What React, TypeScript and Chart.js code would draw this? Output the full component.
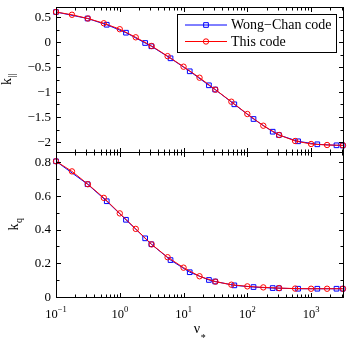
import React, { useEffect, useRef } from 'react';
import { Chart, registerables } from 'chart.js';

Chart.register(...registerables);

// ---- data ----
const xThisCode = [0.1, 0.178, 0.316, 0.562, 1, 1.78, 3.16, 5.62, 10, 17.8, 31.6, 56.2, 100, 178, 316, 562, 1000, 1780, 3160];
const kParThisCode = [0.6, 0.545, 0.47, 0.375, 0.256, 0.094, -0.08, -0.283, -0.494, -0.714, -0.954, -1.194, -1.44, -1.674, -1.86, -1.98, -2.04, -2.06, -2.066];
const kqThisCode = [0.805, 0.745, 0.669, 0.588, 0.496, 0.404, 0.312, 0.236, 0.174, 0.123, 0.091, 0.073, 0.063, 0.057, 0.053, 0.05, 0.049, 0.049, 0.049];

const xWongChan = [0.1, 0.3125, 0.625, 1.25, 2.5, 3.125, 6.25, 12.5, 25, 31.25, 62.5, 125, 250, 312.5, 625, 1250, 2500, 3125];
const kParWongChan = [0.6, 0.47, 0.345, 0.186, -0.02, -0.085, -0.326, -0.586, -0.866, -0.95, -1.246, -1.54, -1.794, -1.86, -1.986, -2.046, -2.066, -2.07];
const kqWongChan = [0.805, 0.669, 0.568, 0.458, 0.348, 0.313, 0.219, 0.147, 0.101, 0.092, 0.069, 0.059, 0.053, 0.052, 0.049, 0.049, 0.049, 0.049];

const seriesNames = ['Wong\u2212Chan code', 'This code'];

const xMajorTicks = [0.1, 1, 10, 100, 1000];
const xTickExponents = ['\u22121', '0', '1', '2', '3'];
const xMinorTicks = [
  0.2, 0.3, 0.4, 0.5, 0.6, 0.7, 0.8, 0.9,
  2, 3, 4, 5, 6, 7, 8, 9,
  20, 30, 40, 50, 60, 70, 80, 90,
  200, 300, 400, 500, 600, 700, 800, 900,
  2000, 3000,
];
const xRange = [0.1, 3162.28];

const kParTicks = [0.5, 0, -0.5, -1, -1.5, -2];
const kParMinorTicks = [0.25, -0.25, -0.75, -1.25, -1.75];
const kParRange = [-2.2, 0.7];

const kqTicks = [0, 0.2, 0.4, 0.6, 0.8];
const kqMinorTicks = [0.1, 0.3, 0.5, 0.7];
const kqRange = [0, 0.86];

const W = 353;
const H = 346;
const FONT = '"Liberation Serif", "Times New Roman", serif';

const fmt = (v: number) => (v < 0 ? '\u2212' + String(Math.abs(v)) : String(v));

type Panel = 'top' | 'bottom';

function makeDecor(panel: Panel) {
  return {
    id: 'decor_' + panel,
    afterDraw(chart: any) {
      const { ctx, chartArea: a, scales } = chart;
      const xs = scales.x;
      const ys = scales.y;
      ctx.save();
      ctx.strokeStyle = '#000';
      ctx.fillStyle = '#000';
      ctx.lineWidth = 1;
      const L = Math.floor(a.left) + 0.5;
      const R = Math.floor(a.right) + 0.5;
      const T = Math.floor(a.top) + 0.5;
      const B = Math.floor(a.bottom) + 0.5;
      const line = (x1: number, y1: number, x2: number, y2: number) => {
        ctx.beginPath();
        ctx.moveTo(x1, y1);
        ctx.lineTo(x2, y2);
        ctx.stroke();
      };
      ctx.strokeRect(L, T, R - L, B - T);

      const MAJ = 4.5;
      const MIN = 3;
      xMajorTicks.forEach((v) => {
        const p = Math.round(xs.getPixelForValue(v)) + 0.5;
        line(p, B, p, B - MAJ);
        line(p, T, p, T + MAJ);
      });
      xMinorTicks.forEach((v) => {
        const p = Math.round(xs.getPixelForValue(v)) + 0.5;
        line(p, B, p, B - MIN);
        line(p, T, p, T + MIN);
      });

      const majors = panel === 'top' ? kParTicks : kqTicks;
      const minors = panel === 'top' ? kParMinorTicks : kqMinorTicks;
      majors.forEach((v) => {
        const p = Math.round(ys.getPixelForValue(v)) + 0.5;
        line(L, p, L + MAJ, p);
        line(R, p, R - MAJ, p);
      });
      minors.forEach((v) => {
        const p = Math.round(ys.getPixelForValue(v)) + 0.5;
        line(L, p, L + MIN, p);
        line(R, p, R - MIN, p);
      });

      // y tick labels
      ctx.font = '13px ' + FONT;
      ctx.textAlign = 'right';
      ctx.textBaseline = 'middle';
      majors.forEach((v) => {
        ctx.fillText(fmt(v), a.left - 5, ys.getPixelForValue(v) + 0.5);
      });

      // y axis title with subscript
      const cy = (a.top + a.bottom) / 2;
      const base = 'k';
      const sub = panel === 'top' ? '||' : 'q';
      const bx = panel === 'top' ? 11 : 18;
      ctx.save();
      ctx.translate(bx, cy);
      ctx.rotate(-Math.PI / 2);
      ctx.textAlign = 'left';
      ctx.textBaseline = 'alphabetic';
      ctx.font = '14px ' + FONT;
      const wb = ctx.measureText(base).width;
      ctx.font = '10px ' + FONT;
      const ws = ctx.measureText(sub).width;
      const start = -(wb + ws) / 2;
      ctx.font = '14px ' + FONT;
      ctx.fillText(base, start, 0);
      ctx.font = '10px ' + FONT;
      ctx.fillText(sub, start + wb + 0.5, 3.5);
      ctx.restore();

      if (panel === 'bottom') {
        // x tick labels 10^n
        ctx.textAlign = 'left';
        ctx.textBaseline = 'alphabetic';
        xMajorTicks.forEach((v, i) => {
          const p = xs.getPixelForValue(v);
          ctx.font = '12.5px ' + FONT;
          const w10 = ctx.measureText('10').width;
          ctx.font = '8.5px ' + FONT;
          const we = ctx.measureText(xTickExponents[i]).width;
          const s = p - (w10 + we) / 2;
          ctx.font = '12.5px ' + FONT;
          ctx.fillText('10', s, 317.5);
          ctx.font = '8.5px ' + FONT;
          ctx.fillText(xTickExponents[i], s + w10, 311.5);
        });
        // x axis title: nu_*
        ctx.font = '14px ' + FONT;
        const wn = ctx.measureText('\u03bd').width;
        ctx.font = '10px ' + FONT;
        const wst = ctx.measureText('*').width;
        const cx = (a.left + a.right) / 2;
        const sx = cx - (wn + wst) / 2;
        ctx.font = '14px ' + FONT;
        ctx.fillText('\u03bd', sx, 333);
        ctx.font = '10px ' + FONT;
        ctx.fillText('*', sx + wn + 0.5, 341);
      } else {
        // legend
        const lx = 177.5, ly = 14.5, lw = 159, lh = 38;
        ctx.fillStyle = '#fff';
        ctx.fillRect(lx, ly, lw, lh);
        ctx.strokeStyle = '#000';
        ctx.strokeRect(lx, ly, lw, lh);
        const rows = [25, 41.5];
        chart.data.datasets.forEach((ds: any, i: number) => {
          const y = rows[i];
          ctx.strokeStyle = ds.borderColor;
          ctx.lineWidth = 1;
          line(185, y, 227, y);
          ctx.beginPath();
          if (ds.pointStyle === 'rect') {
            const s = ds.pointRadius * Math.SQRT1_2;
            ctx.rect(206 - s, y - s, 2 * s, 2 * s);
          } else {
            ctx.arc(206, y, ds.pointRadius, 0, Math.PI * 2);
          }
          ctx.stroke();
          ctx.fillStyle = '#000';
          ctx.font = '14px ' + FONT;
          ctx.textAlign = 'left';
          ctx.textBaseline = 'middle';
          ctx.fillText(ds.label, 231, y + 0.5);
        });
      }
      ctx.restore();
    },
  };
}

function buildChart(canvas: HTMLCanvasElement, panel: Panel) {
  const wongY = panel === 'top' ? kParWongChan : kqWongChan;
  const thisY = panel === 'top' ? kParThisCode : kqThisCode;
  const yRange = panel === 'top' ? kParRange : kqRange;
  const padding = panel === 'top'
    ? { top: 7, bottom: H - 152, left: 56, right: W - 343 }
    : { top: 152, bottom: H - 297, left: 56, right: W - 343 };
  return new Chart(canvas, {
    type: 'line',
    data: {
      datasets: [
        {
          label: seriesNames[0],
          data: xWongChan.map((x, i) => ({ x, y: wongY[i] })),
          borderColor: '#0000ff',
          backgroundColor: 'rgba(0,0,0,0)',
          borderWidth: 1,
          pointStyle: 'rect',
          pointRadius: 3.3,
          pointBorderWidth: 1,
          pointBorderColor: '#0000ff',
          pointBackgroundColor: 'rgba(0,0,0,0)',
          tension: 0,
          clip: false,
          order: 2,
        } as any,
        {
          label: seriesNames[1],
          data: xThisCode.map((x, i) => ({ x, y: thisY[i] })),
          borderColor: '#ff0000',
          backgroundColor: 'rgba(0,0,0,0)',
          borderWidth: 1,
          pointStyle: 'circle',
          pointRadius: 2.7,
          pointBorderWidth: 1,
          pointBorderColor: '#ff0000',
          pointBackgroundColor: 'rgba(0,0,0,0)',
          tension: 0,
          clip: false,
          order: 1,
        } as any,
      ],
    },
    options: {
      animation: false,
      responsive: false,
      maintainAspectRatio: false,
      events: [],
      layout: { padding },
      scales: {
        x: { type: 'logarithmic', min: xRange[0], max: xRange[1], display: false },
        y: { type: 'linear', min: yRange[0], max: yRange[1], display: false },
      },
      plugins: {
        legend: { display: false },
        tooltip: { enabled: false },
        title: { display: false },
      },
    },
    plugins: [makeDecor(panel)],
  } as any);
}

export default function App() {
  const topRef = useRef<HTMLCanvasElement>(null);
  const botRef = useRef<HTMLCanvasElement>(null);
  useEffect(() => {
    const c1 = buildChart(botRef.current!, 'bottom');
    const c2 = buildChart(topRef.current!, 'top');
    return () => {
      c1.destroy();
      c2.destroy();
    };
  }, []);
  const cs: React.CSSProperties = { position: 'absolute', left: 0, top: 0, width: W, height: H };
  return (
    <div style={{ position: 'absolute', left: 0, top: 0, width: W, height: H, background: '#fff' }}>
      <canvas ref={botRef} width={W} height={H} style={cs} />
      <canvas ref={topRef} width={W} height={H} style={cs} />
    </div>
  );
}
